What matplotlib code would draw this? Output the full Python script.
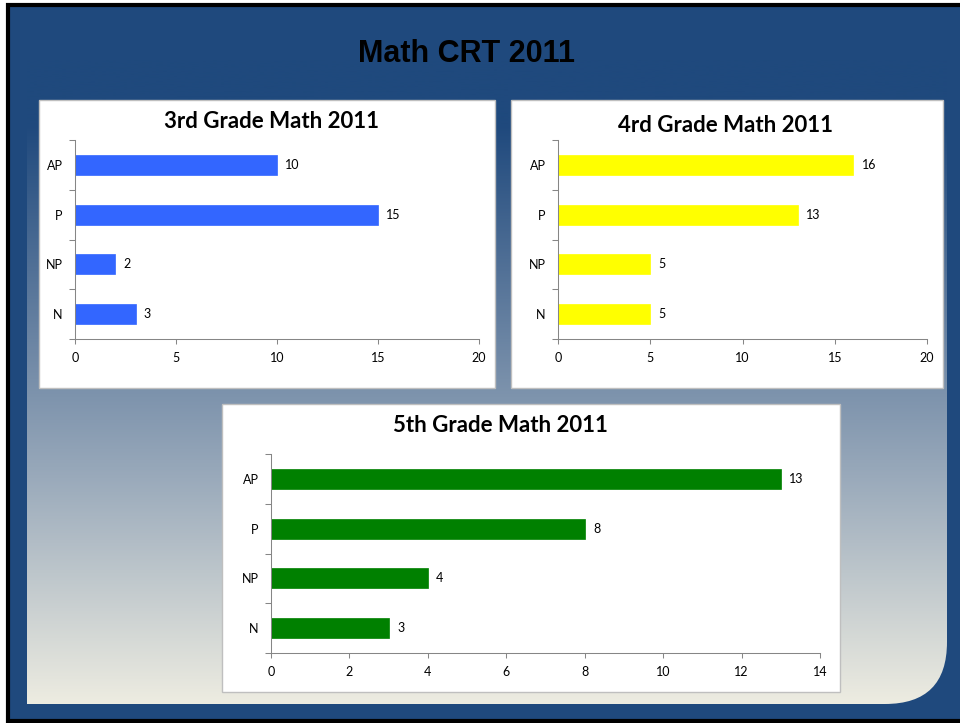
import numpy as np
import matplotlib.pyplot as plt
from matplotlib.patches import Rectangle, PathPatch
from matplotlib.path import Path
from matplotlib.colors import LinearSegmentedColormap

# chart data
levels = ["AP", "P", "NP", "N"]
grade3 = [10, 15, 2, 3]
grade4 = [16, 13, 5, 5]
grade5 = [13, 8, 4, 3]

titles = ["3rd Grade Math 2011", "4rd Grade Math 2011", "5th Grade Math 2011"]
colors = ["#3366FF", "#FFFF00", "#008000"]
x_max = [20, 20, 14]
x_step = [5, 5, 2]

W, H = 960, 723
fig = plt.figure(figsize=(W / 100, H / 100), dpi=100)
fig.patch.set_facecolor("white")

# slide background, drawn in pixel coordinates
bg = fig.add_axes([0, 0, 1, 1])
bg.set_xlim(0, W)
bg.set_ylim(H, 0)
bg.axis("off")

dark_blue = "#1F497D"
bg.add_patch(Rectangle((8, 5), W, 716, facecolor=dark_blue, edgecolor="black", lw=3))

# gradient panel with rounded bottom-right corner
L, T, R, B, rad = 27, 60, 947, 704, 62
verts = [(L, T), (R, T), (R, B - rad), (R, B), (R - rad, B), (L, B), (L, T)]
codes = [Path.MOVETO, Path.LINETO, Path.LINETO, Path.CURVE3, Path.CURVE3, Path.LINETO, Path.CLOSEPOLY]
clip = PathPatch(Path(verts, codes), facecolor="none", edgecolor="none")
bg.add_patch(clip)
grad_cmap = LinearSegmentedColormap.from_list(
    "slide", [(0, dark_blue), (0.1, dark_blue), (0.45, "#6E87A5"), (0.65, "#9AAABB"), (1, "#EDECE1")])
grad = np.linspace(0, 1, 256).reshape(-1, 1)
img = bg.imshow(grad, cmap=grad_cmap, extent=(L, R, B, T), aspect="auto", zorder=1)
img.set_clip_path(clip)

bg.text(466, 54, "Math CRT 2011", ha="center", va="center", fontsize=22,
        fontweight="bold", family="Liberation Sans", color="black", zorder=3)

# white chart panels: (left, top, right, bottom)
panels = [(39, 100, 495, 388), (511, 100, 943, 388), (222, 404, 840, 692)]
for p in panels:
    bg.add_patch(Rectangle((p[0], p[1]), p[2] - p[0], p[3] - p[1],
                           facecolor="white", edgecolor="#BFBFBF", lw=1, zorder=2))

# plot areas: (left, top, right, bottom)
plot_areas = [(75, 140, 479, 339), (558, 140, 927, 339), (271, 454, 820, 653)]
title_pos = [(272, 121), (726, 125), (500, 425)]
series = [grade3, grade4, grade5]

for i in range(3):
    l, t, r, b = plot_areas[i]
    ax = fig.add_axes([l / W, 1 - b / H, (r - l) / W, (b - t) / H])
    ax.set_facecolor("none")
    ypos = np.arange(len(levels))
    bars = ax.barh(ypos, series[i], height=0.4, color=colors[i], edgecolor=colors[i], lw=0.5)
    ax.bar_label(bars, padding=6, fontsize=9, family="Lato")
    ax.set_ylim(len(levels) - 0.5, -0.5)
    ax.set_xlim(0, x_max[i])
    ax.set_xticks(np.arange(0, x_max[i] + 1, x_step[i]))
    ax.set_yticks(ypos, levels)
    ax.set_yticks(np.arange(-0.5, len(levels)), minor=True)
    ax.tick_params(axis="y", which="major", length=0, pad=9)
    ax.tick_params(axis="y", which="minor", length=4, color="#868686", width=0.75)
    ax.tick_params(axis="x", length=3.5, color="#868686", width=0.75, pad=6)
    for lab in ax.get_xticklabels() + ax.get_yticklabels():
        lab.set_fontsize(9)
        lab.set_family("Lato")
    for s in ["top", "right"]:
        ax.spines[s].set_visible(False)
    for s in ["left", "bottom"]:
        ax.spines[s].set_color("#868686")
        ax.spines[s].set_linewidth(0.75)
    bg.text(title_pos[i][0], title_pos[i][1], titles[i], ha="center", va="center",
            fontsize=16, fontweight="bold", family="Lato", color="black", zorder=3)

plt.savefig("out.png", dpi=100)
